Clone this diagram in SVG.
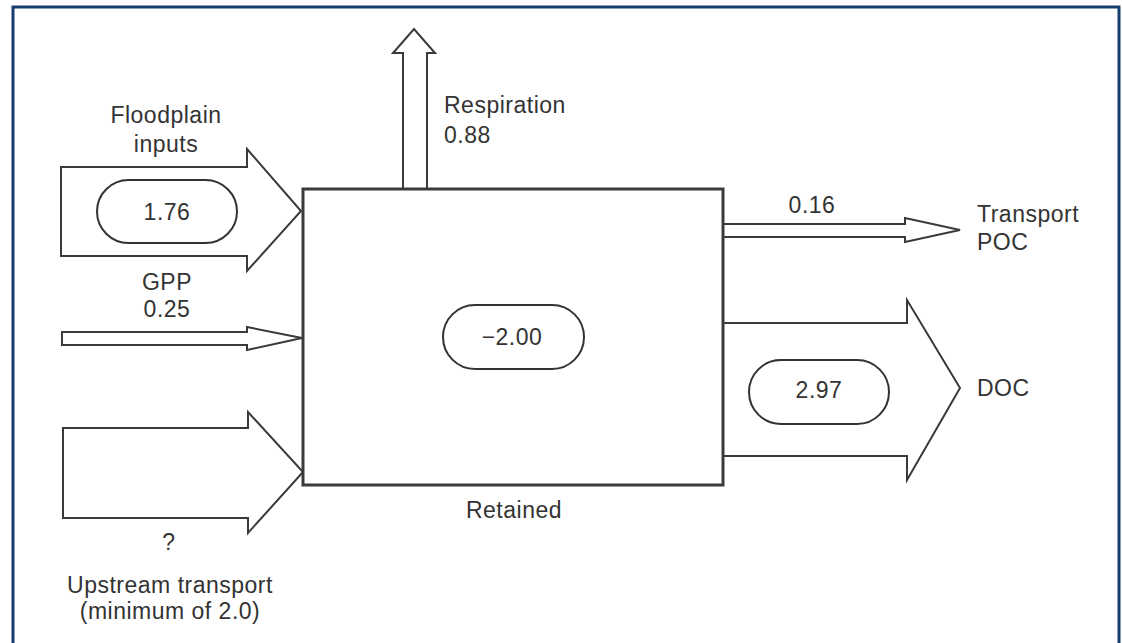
<svg xmlns="http://www.w3.org/2000/svg" width="1122" height="643" viewBox="0 0 1122 643">
<style>
.frame{fill:none;stroke:#173d6e;stroke-width:3}
.box{fill:#fff;stroke:#3a3a3a;stroke-width:3}
.arr{fill:#fff;stroke:#3a3a3a;stroke-width:2;stroke-linejoin:miter}
.pill{fill:#fff;stroke:#333;stroke-width:2}
text{font-family:"Liberation Sans",Arial,sans-serif;font-size:23px;fill:#333;letter-spacing:0.5px}
.c{text-anchor:middle}
</style>
<rect width="1122" height="643" fill="#fff"/>
<rect class="frame" x="13" y="7" width="1106" height="660"/>
<g id="connectors">
  <path id="floodplain-arrow" class="arr" d="M61,167 H247 V149 L301,211 L247,271 V256 H61 Z"/>
  <path id="gpp-arrow" class="arr" d="M62,332 H247 V327 L302,338 L247,350 V345 H62 Z"/>
  <path id="upstream-arrow" class="arr" d="M63,428 H248 V412 L303,472 L248,533 V518 H63 Z"/>
  <path id="respiration-arrow" class="arr" d="M403,189 V53 H393 L414,29 L435,53 H427 V189"/>
  <path id="poc-arrow" class="arr" d="M723,224 H905 V218 L960,230 L905,242 V237 H723"/>
  <path id="doc-arrow" class="arr" d="M723,323 H907 V300 L960,388 L907,480 V456 H723"/>
</g>
<g id="retained-box">
  <rect class="box" x="303" y="189" width="420" height="296"/>
  <rect class="pill" x="443" y="305" width="141" height="64" rx="32"/>
  <text class="c" x="512" y="345">−2.00</text>
  <text class="c" x="514" y="518">Retained</text>
</g>
<g id="floodplain">
  <text class="c" x="166" y="123">Floodplain</text>
  <text class="c" x="166" y="152">inputs</text>
  <rect class="pill" x="97" y="180" width="140" height="63" rx="31.5"/>
  <text class="c" x="167" y="220">1.76</text>
</g>
<g id="gpp">
  <text class="c" x="167" y="290">GPP</text>
  <text class="c" x="167" y="317">0.25</text>
</g>
<g id="upstream">
  <text class="c" x="169" y="550">?</text>
  <text class="c" x="170" y="593">Upstream transport</text>
  <text class="c" x="170" y="619">(minimum of 2.0)</text>
</g>
<g id="respiration">
  <text x="444" y="113">Respiration</text>
  <text x="444" y="143">0.88</text>
</g>
<g id="transport-poc">
  <text class="c" x="812" y="213">0.16</text>
  <text x="977" y="222">Transport</text>
  <text x="977" y="250">POC</text>
</g>
<g id="doc">
  <rect class="pill" x="749" y="360" width="140" height="64" rx="32"/>
  <text class="c" x="819" y="398">2.97</text>
  <text x="977" y="396">DOC</text>
</g>
</svg>
